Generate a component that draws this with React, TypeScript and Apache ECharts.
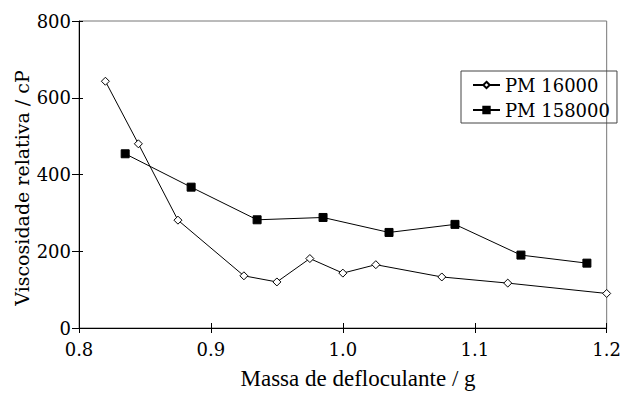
import React, { useEffect, useRef } from "react";
import * as echarts from "echarts";

const pm16000X = [0.82, 0.845, 0.875, 0.925, 0.95, 0.975, 1.0, 1.025, 1.075, 1.125, 1.2];
const pm16000Y = [643, 480, 281, 136, 120, 181, 143, 165, 133, 117, 90];
const pm158000X = [0.835, 0.885, 0.935, 0.985, 1.035, 1.085, 1.135, 1.185];
const pm158000Y = [454, 367, 282, 288, 249, 270, 190, 169];
const seriesNames = ["PM 16000", "PM 158000"];
const xTitle = "Massa de defloculante / g";
const yTitle = "Viscosidade relativa / cP";

const SERIF = "DejaVu Serif";

export default function App() {
  const ref = useRef<HTMLDivElement>(null);
  useEffect(() => {
    if (!ref.current) return;
    const chart = echarts.init(ref.current, null, { renderer: "svg" });
    const xBase = {
      type: "value",
      min: 0.8,
      max: 1.2,
      interval: 0.1,
      splitLine: { show: false },
    };
    const yBase = {
      type: "value",
      min: 0,
      max: 800,
      interval: 200,
      splitLine: { show: false },
    };
    chart.setOption({
      animation: false,
      backgroundColor: "#ffffff",
      grid: {
        left: 79,
        right: 6,
        top: 21,
        bottom: 66,
        show: true,
        borderColor: "#777777",
        borderWidth: 1,
        backgroundColor: "transparent",
      },
      xAxis: [
        {
          ...xBase,
          position: "bottom",
          axisLine: { show: true, lineStyle: { color: "#000", width: 1 } },
          axisTick: { show: true, inside: false, length: 5, lineStyle: { color: "#000" } },
          axisLabel: {
            show: true,
            margin: 12,
            color: "#000",
            fontFamily: SERIF,
            fontSize: 18,
            formatter: (v: number) => v.toFixed(1),
          },
        },
        {
          ...xBase,
          position: "bottom",
          axisLine: { show: false },
          axisTick: { show: true, inside: true, length: 5, lineStyle: { color: "#000" } },
          axisLabel: { show: false },
        },
      ],
      yAxis: [
        {
          ...yBase,
          position: "left",
          axisLine: { show: true, lineStyle: { color: "#000", width: 1 } },
          axisTick: { show: true, inside: false, length: 7, lineStyle: { color: "#000" } },
          axisLabel: {
            show: true,
            margin: 8,
            color: "#000",
            fontFamily: SERIF,
            fontSize: 18,
          },
        },
        {
          ...yBase,
          position: "left",
          axisLine: { show: false },
          axisTick: { show: true, inside: true, length: 4, lineStyle: { color: "#000" } },
          axisLabel: { show: false },
        },
      ],
      legend: {
        show: true,
        orient: "vertical",
        left: 461,
        top: 71,
        data: seriesNames,
        borderColor: "#444",
        borderWidth: 1,
        borderRadius: 0,
        padding: [5, 7, 4, 11],
        itemWidth: 27,
        itemHeight: 8,
        itemGap: 7,
        textStyle: { color: "#000", fontFamily: SERIF, fontSize: 18 },
      },
      graphic: [
        {
          type: "text",
          x: 358,
          y: 378,
          style: {
            text: xTitle,
            font: "23px serif",
            fill: "#000",
            textAlign: "center",
            textVerticalAlign: "middle",
          },
        },
        {
          type: "text",
          x: 22,
          y: 188,
          rotation: Math.PI / 2,
          style: {
            text: yTitle,
            fontFamily: SERIF,
            fontSize: 19,
            fill: "#000",
            textAlign: "center",
            textVerticalAlign: "middle",
          },
        },
      ],
      series: [
        {
          name: seriesNames[0],
          type: "line",
          xAxisIndex: 0,
          yAxisIndex: 0,
          data: pm16000X.map((x, i) => [x, pm16000Y[i]]),
          symbol: "diamond",
          symbolSize: 8,
          clip: false,
          lineStyle: { color: "#000", width: 1 },
          itemStyle: { color: "#ffffff", borderColor: "#000", borderWidth: 1 },
        },
        {
          name: seriesNames[1],
          type: "line",
          xAxisIndex: 0,
          yAxisIndex: 0,
          data: pm158000X.map((x, i) => [x, pm158000Y[i]]),
          symbol: "rect",
          symbolSize: 8,
          clip: false,
          lineStyle: { color: "#000", width: 1 },
          itemStyle: { color: "#000", borderColor: "#000", borderWidth: 1 },
        },
      ],
    });
    return () => chart.dispose();
  }, []);
  return <div ref={ref} style={{ width: 624, height: 394, position: "absolute", left: 0, top: 0 }} />;
}
